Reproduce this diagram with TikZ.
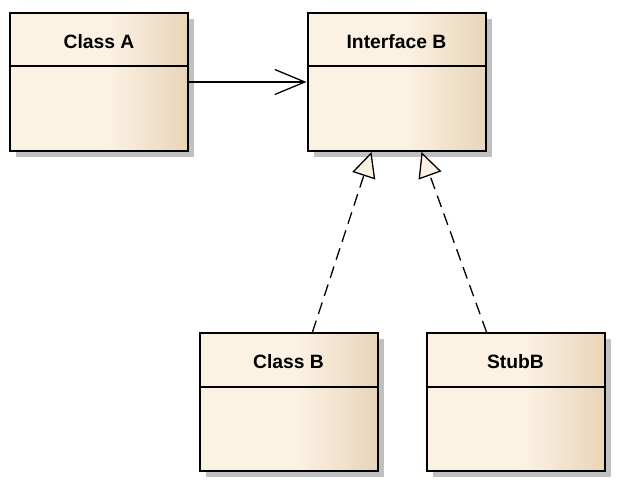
\documentclass[tikz,border=0pt]{standalone}
\usepackage{fontspec}
\setmainfont{Liberation Sans}
\usetikzlibrary{arrows.meta,shadows}
\definecolor{classlight}{RGB}{252,242,228}
\definecolor{classdark}{RGB}{232,213,185}
\definecolor{shadowgray}{RGB}{192,192,192}
\pgfdeclarehorizontalshading{classfill}{100bp}{color(0bp)=(classlight); color(25bp)=(classlight); color(52bp)=(classlight); color(75bp)=(classdark); color(100bp)=(classdark)}
\begin{document}
\begin{tikzpicture}[x=1pt,y=-1pt,
  umlclass/.style={draw, line width=2pt, minimum width=178pt, minimum height=138pt, shading=classfill,
    drop shadow={shadow xshift=6pt, shadow yshift=-6pt, fill=shadowgray, opacity=1}},
  classtitle/.style={font=\fontsize{19.3}{23}\selectfont\bfseries, inner sep=0pt},
  divider/.style={line width=2pt},
  assoc/.style={line width=1.3pt, -{Straight Barb[length=30pt, width=25pt, line width=1.3pt]}},
  realize/.style={line width=1.3pt, dash pattern=on 12pt off 7pt,
    -{Triangle[length=25pt, width=24pt, open, fill=classlight, line width=1.3pt]}}]
\useasboundingbox (0,0) rectangle (626,494);

\node[umlclass] (classA) at (99,82) {};
\node[umlclass] (interfaceB) at (396.5,82) {};
\node[umlclass] (classB) at (288.5,402) {};
\node[umlclass] (stubB) at (515.5,402) {};

\draw[divider] ([yshift=-54pt]classA.north west) -- ([yshift=-54pt]classA.north east);
\draw[divider] ([yshift=-54pt]interfaceB.north west) -- ([yshift=-54pt]interfaceB.north east);
\draw[divider] ([yshift=-55pt]classB.north west) -- ([yshift=-55pt]classB.north east);
\draw[divider] ([yshift=-55pt]stubB.north west) -- ([yshift=-55pt]stubB.north east);

\node[classtitle] (classAtitle) at ([yshift=-30pt]classA.north) {Class A};
\node[classtitle] (interfaceBtitle) at ([yshift=-30pt]interfaceB.north) {Interface B};
\node[classtitle] (classBtitle) at ([yshift=-30pt]classB.north) {Class B};
\node[classtitle] (stubBtitle) at ([yshift=-30pt]stubB.north) {StubB};

\draw[assoc] (classA) -- (interfaceB);
\draw[realize] ([xshift=24pt]classB.north) -- ([xshift=-25pt]interfaceB.south);
\draw[realize] ([xshift=-29pt]stubB.north) -- ([xshift=25pt]interfaceB.south);
\end{tikzpicture}
\end{document}
